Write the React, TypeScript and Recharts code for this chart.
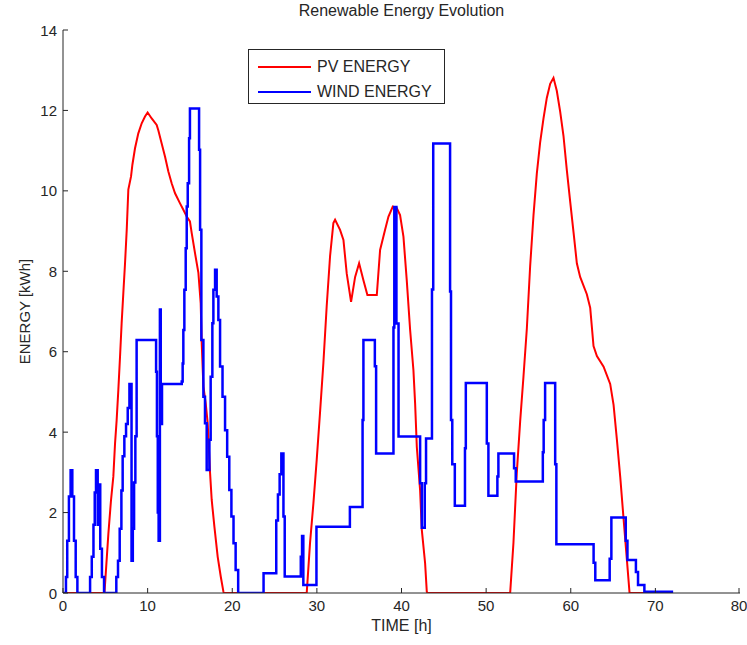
import React from 'react';
import { LineChart, Line, XAxis, YAxis, Legend } from 'recharts';

// Time [h] and energy [kWh]
const pvPoints: [number, number][] = [
  [0, 0], [4.9, 0], [5.36, 1.47], [5.67, 2.3], [5.95, 2.9], [6.15, 3.72], [6.34, 4.3], [6.54, 5.05],
  [6.74, 5.88], [6.93, 6.71], [7.13, 7.46], [7.33, 8.2], [7.53, 9.03], [7.72, 10.03], [8.04, 10.36],
  [8.2, 10.65], [8.51, 11.06], [8.9, 11.43], [9.3, 11.68], [9.69, 11.85], [10.0, 11.95], [10.48, 11.8],
  [11.07, 11.64], [11.27, 11.5], [11.66, 11.18], [12.06, 10.85], [12.45, 10.48], [12.84, 10.19],
  [13.24, 9.94], [13.83, 9.69], [14.22, 9.53], [14.62, 9.36], [15.0, 9.24], [15.21, 8.95], [15.6, 8.45],
  [16.0, 7.96], [16.27, 7.21], [16.39, 6.22], [16.59, 5.14], [16.86, 4.72], [17.1, 4.22], [17.38, 2.98],
  [17.57, 2.32], [17.89, 1.65], [18.28, 0.9], [18.64, 0.41], [18.95, 0.04], [19.0, 0],
  [28.8, 0], [29.19, 1.24], [29.59, 2.23], [29.98, 3.31], [30.37, 4.48], [30.77, 5.72], [31.16, 7.13],
  [31.56, 8.38], [31.95, 9.2], [32.15, 9.28], [32.74, 9.03], [33.14, 8.78], [33.53, 7.94], [34.04, 7.24],
  [34.52, 7.86], [34.99, 8.2], [35.5, 7.78], [35.97, 7.41], [37.08, 7.41], [37.47, 8.53], [38.06, 9.03],
  [38.46, 9.36], [38.97, 9.61], [39.44, 9.57], [39.83, 9.4], [40.23, 8.86], [40.62, 7.78], [41.02, 6.54],
  [41.41, 5.54], [41.61, 4.71], [41.81, 3.63], [42.2, 2.55], [42.4, 1.57], [42.79, 0.74], [42.99, 0.03],
  [43.1, 0], [52.84, 0], [53.23, 1.25], [53.62, 2.97], [54.02, 4.26], [54.41, 5.37], [54.81, 6.57],
  [55.2, 8.12], [55.6, 9.4], [55.99, 10.43], [56.38, 11.2], [56.78, 11.8], [57.17, 12.31], [57.57, 12.66],
  [57.96, 12.81], [58.35, 12.49], [58.75, 11.97], [59.14, 11.37], [59.54, 10.51], [59.93, 9.74],
  [60.33, 8.97], [60.72, 8.2], [61.11, 7.86], [61.9, 7.43], [62.3, 7.09], [62.69, 6.14], [63.09, 5.89],
  [63.88, 5.63], [64.66, 5.2], [65.06, 4.68], [65.45, 3.82], [65.85, 2.88], [66.24, 1.85], [66.64, 0.81],
  [66.95, 0], [68.8, 0],
];

const windPoints: [number, number][] = [
  [0, 0], [0.35, 0.4], [0.5, 1.3], [0.7, 2.4], [0.9, 3.05], [1.1, 2.4], [1.3, 1.3], [1.5, 0.4], [1.7, 0],
  [3.2, 0.4], [3.4, 0.9], [3.6, 1.7], [3.75, 2.5], [3.9, 3.05], [4.1, 1.7], [4.25, 2.7], [4.4, 1.1],
  [4.6, 0.4], [4.85, 0],
  [6.3, 0.4], [6.5, 0.8], [6.7, 1.6], [6.9, 2.55], [7.05, 3.4], [7.25, 3.9], [7.45, 4.2], [7.65, 4.6],
  [7.85, 5.2], [8.1, 0.8], [8.25, 1.6], [8.4, 2.75], [8.55, 3.9], [8.7, 6.29], [11.0, 5.5], [11.1, 3.9],
  [11.2, 2.0], [11.3, 1.3], [11.45, 7.05], [11.55, 4.2], [11.7, 5.2],
  [14.03, 5.26], [14.14, 5.71], [14.22, 6.54], [14.34, 7.54], [14.5, 8.57], [14.62, 9.61], [14.74, 10.19],
  [14.9, 11.31], [15.0, 12.05], [16.08, 11.02], [16.2, 9.03], [16.35, 6.29], [16.59, 4.88], [16.78, 4.22],
  [16.98, 3.06], [17.3, 3.81], [17.45, 5.38], [17.65, 6.71], [17.77, 7.54], [17.97, 8.04], [18.16, 7.37],
  [18.36, 6.79], [18.56, 5.63], [18.85, 4.88], [19.15, 4.05], [19.4, 3.39], [19.65, 2.56], [19.9, 1.9],
  [20.15, 1.24], [20.4, 0.57], [20.7, 0],
  [23.7, 0.49], [25.2, 1.8], [25.4, 2.45], [25.6, 2.95], [25.8, 3.47], [26.05, 1.9], [26.2, 0.41],
  [28.1, 0.9], [28.25, 1.42], [28.4, 0.2], [29.95, 1.65], [33.9, 2.14], [35.4, 4.3], [35.5, 6.29],
  [36.85, 5.64], [37.0, 3.47], [39.05, 6.6], [39.15, 9.6], [39.4, 6.7], [39.65, 3.89], [42.2, 2.73],
  [42.4, 1.62], [42.75, 2.73], [42.9, 3.84], [43.6, 7.55], [43.75, 11.18], [45.74, 7.5], [45.85, 4.3],
  [46.0, 3.2], [46.3, 2.17], [47.5, 3.6], [47.6, 5.22], [50.08, 3.72], [50.27, 2.42], [51.33, 2.9],
  [51.45, 3.47], [53.3, 3.1], [53.5, 2.77], [56.7, 3.5], [56.8, 4.3], [56.97, 5.22], [58.16, 3.2],
  [58.3, 1.21], [62.7, 0.75], [62.9, 0.32], [64.6, 0.85], [64.8, 1.88], [66.5, 1.3], [66.7, 0.82],
  [67.7, 0.52], [67.95, 0.2], [68.7, 0.03], [72.1, 0.03],
];

const xTicks = [0, 10, 20, 30, 40, 50, 60, 70, 80];
const yTicks = [0, 2, 4, 6, 8, 10, 12, 14];

const TITLE = 'Renewable Energy Evolution';
const X_LABEL = 'TIME [h]';
const Y_LABEL = 'ENERGY [kWh]';
const PV_NAME = 'PV ENERGY';
const WIND_NAME = 'WIND ENERGY';

const pvData = pvPoints.map(([t, v]) => ({ t, v }));
const windData = windPoints.map(([t, v]) => ({ t, v }));

const FONT = '"Liberation Sans", Arial, Helvetica, sans-serif';
const INK = '#262626';

const BottomTick = (props: any) => {
  const { x, y, payload } = props;
  return (
    <g>
      <line x1={x} y1={y} x2={x} y2={y - 5} stroke={INK} strokeWidth={1} />
      <text x={x} y={y + 18} textAnchor="middle" fontSize={15} fontFamily={FONT} fill={INK}>
        {payload.value}
      </text>
    </g>
  );
};

const LeftTick = (props: any) => {
  const { x, y, payload } = props;
  return (
    <g>
      <line x1={x} y1={y} x2={x + 5} y2={y} stroke={INK} strokeWidth={1} />
      <text x={x - 6} y={y + 5.5} textAnchor="end" fontSize={15} fontFamily={FONT} fill={INK}>
        {payload.value}
      </text>
    </g>
  );
};

const TopTick = (props: any) => {
  const { x, y } = props;
  return <line x1={x} y1={y} x2={x} y2={y + 5} stroke={INK} strokeWidth={1} />;
};

const RightTick = (props: any) => {
  const { x, y } = props;
  return <line x1={x} y1={y} x2={x - 5} y2={y} stroke={INK} strokeWidth={1} />;
};

const XLabel = (props: any) => {
  const vb = props.viewBox || {};
  return (
    <text x={vb.x + vb.width / 2} y={vb.y + 38} textAnchor="middle" fontSize={16} fontFamily={FONT} fill={INK}>
      {X_LABEL}
    </text>
  );
};

const YLabel = (props: any) => {
  const vb = props.viewBox || {};
  const cx = vb.x + 30;
  const cy = vb.y + vb.height / 2;
  return (
    <text
      x={cx}
      y={cy}
      transform={`rotate(-90, ${cx}, ${cy})`}
      textAnchor="middle"
      fontSize={15}
      fontFamily={FONT}
      fill={INK}
    >
      {Y_LABEL}
    </text>
  );
};

const LegendBox = (props: any) => {
  const payload = props.payload || [];
  return (
    <div
      style={{
        width: 197,
        height: 55,
        boxSizing: 'border-box',
        border: `1px solid ${INK}`,
        background: '#fff',
        paddingTop: 4,
      }}
    >
      {payload.map((p: any) => (
        <div key={p.value} style={{ display: 'flex', alignItems: 'center', height: 25 }}>
          <svg width={68} height={10} style={{ display: 'block' }}>
            <line x1={9} y1={5} x2={62} y2={5} stroke={p.color} strokeWidth={2} />
          </svg>
          <span style={{ fontFamily: FONT, fontSize: 16, color: INK, lineHeight: '16px' }}>{p.value}</span>
        </div>
      ))}
    </div>
  );
};

export default function App() {
  return (
    <div style={{ position: 'absolute', left: 0, top: 0, width: 747, height: 645, background: '#fff' }}>
      <div
        style={{
          position: 'absolute',
          left: 63,
          top: 3,
          width: 677,
          textAlign: 'center',
          fontFamily: FONT,
          fontSize: 16,
          lineHeight: '16px',
          color: INK,
        }}
      >
        {TITLE}
      </div>
      <LineChart width={747} height={645} margin={{ top: 30, right: 7, bottom: 22, left: 0 }}>
        <XAxis
          dataKey="t"
          type="number"
          domain={[0, 80]}
          ticks={xTicks}
          allowDataOverflow
          height={30}
          tickSize={0}
          tickMargin={0}
          tickLine={false}
          tick={<BottomTick />}
          axisLine={{ stroke: INK, strokeWidth: 1 }}
          label={<XLabel />}
        />
        <XAxis
          xAxisId="top"
          orientation="top"
          dataKey="t"
          type="number"
          domain={[0, 80]}
          ticks={xTicks}
          allowDataOverflow
          height={0}
          tickSize={0}
          tickMargin={0}
          tickLine={false}
          tick={<TopTick />}
          axisLine={{ stroke: INK, strokeWidth: 1 }}
        />
        <YAxis
          type="number"
          domain={[0, 14]}
          ticks={yTicks}
          allowDataOverflow
          width={63}
          tickSize={0}
          tickMargin={0}
          tickLine={false}
          tick={<LeftTick />}
          axisLine={{ stroke: INK, strokeWidth: 1 }}
          label={<YLabel />}
        />
        <YAxis
          yAxisId="right"
          orientation="right"
          type="number"
          domain={[0, 14]}
          ticks={yTicks}
          allowDataOverflow
          width={0}
          tickSize={0}
          tickMargin={0}
          tickLine={false}
          tick={<RightTick />}
          axisLine={{ stroke: INK, strokeWidth: 1 }}
        />
        <Legend
          layout="vertical"
          align="center"
          verticalAlign="middle"
          wrapperStyle={{ left: 248, top: 49, width: 197, height: 55 }}
          content={<LegendBox />}
        />
        <Line
          data={pvData}
          dataKey="v"
          name={PV_NAME}
          type="linear"
          stroke="#ff0000"
          strokeWidth={2}
          dot={false}
          activeDot={false}
          isAnimationActive={false}
        />
        <Line
          data={windData}
          dataKey="v"
          name={WIND_NAME}
          type="stepAfter"
          stroke="#0000ff"
          strokeWidth={2.5}
          dot={false}
          activeDot={false}
          isAnimationActive={false}
        />
      </LineChart>
    </div>
  );
}
